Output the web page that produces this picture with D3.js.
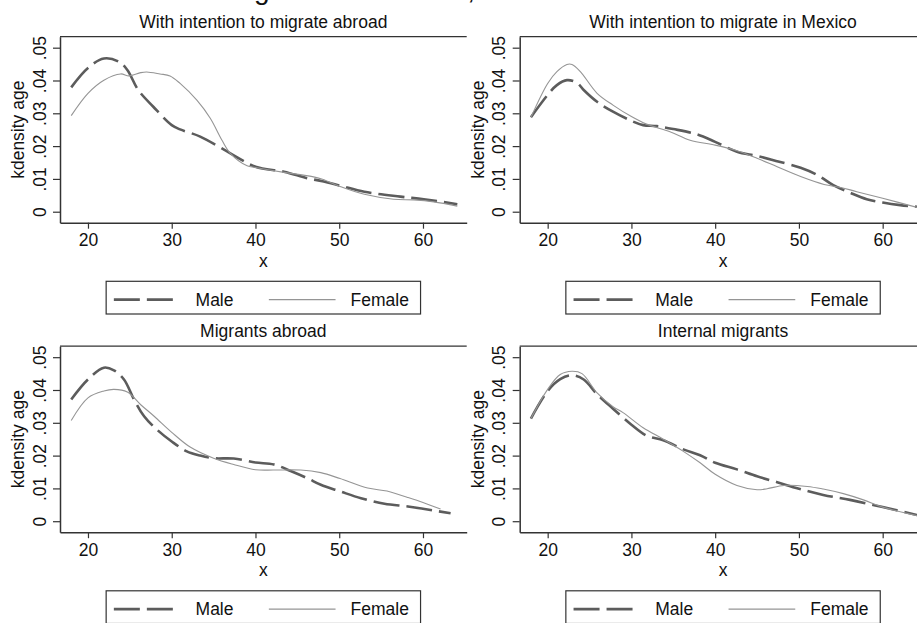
<!DOCTYPE html>
<html>
<head>
<meta charset="utf-8">
<script src="https://cdn.jsdelivr.net/npm/d3@7"></script>
<style>
  body { margin: 0; background: #fff; }
  svg { display: block; font-family: "Liberation Sans", Arial, Helvetica, sans-serif; }
</style>
</head>
<body>
<script>
// panel titles, in reading order
const panelTitles = [
    "With intention to migrate abroad",
    "With intention to migrate in Mexico",
    "Migrants abroad",
    "Internal migrants"
];
const seriesNames = ["Male", "Female"];
const xTicks = [20, 30, 40, 50, 60];
const yTicks = [0, 0.01, 0.02, 0.03, 0.04, 0.05];
const yTickLabels = ["0", ".01", ".02", ".03", ".04", ".05"];

// [age, density]
const intentAbroadMale = [[18, .0379], [20, .0438], [21.9, .0467], [23.7, .0457], [24.7, .0432], [26, .0371], [27.8, .032], [30, .0264], [31, .0251], [33.4, .0229], [37, .0178], [40, .0137], [43.4, .0122], [46.2, .0102], [48, .0093], [50.2, .0079], [53, .0061], [57.3, .0046], [60.1, .0038], [64.1, .0023]];
const intentAbroadFemale = [[18, .0293], [20, .0361], [21.9, .0401], [23.9, .042], [24.9, .0414], [26.3, .0424], [27, .0426], [28.6, .042], [29.8, .0414], [31, .0391], [33, .034], [34.6, .0285], [36, .0218], [37, .0178], [39, .014], [40, .0135], [43.4, .012], [46.8, .0107], [48, .0099], [50.2, .0076], [53, .0053], [56.5, .0038], [58.9, .0036], [61.3, .003], [64.1, .0017]];

const intentMexicoMale = [[18, .0288], [20, .0356], [21.1, .0386], [22.3, .0401], [23.5, .0393], [24.3, .0371], [25.9, .0335], [27.8, .0305], [30, .0277], [31.4, .0264], [33, .0261], [35, .0252], [37.8, .0236], [40, .0213], [42.6, .0183], [45, .017], [47.4, .0154], [50.2, .0134], [52.2, .0112], [54.1, .0081], [56.1, .0058], [58.1, .0038], [60, .0028], [62.1, .002], [64.1, .0015]];
const intentMexicoFemale = [[18, .0288], [20, .0391], [21.1, .0427], [22.3, .0449], [22.9, .0449], [23.9, .0427], [25.9, .0361], [27.8, .0325], [30, .029], [31.8, .0267], [34.6, .0244], [37, .0218], [40, .0203], [42.6, .0186], [45, .0163], [47.4, .0137], [50.2, .0107], [53, .0083], [55, .0074], [56.9, .0061], [60, .0041], [64.1, .0013]];

const abroadMale = [[18, .0371], [20, .0432], [21.9, .0468], [23.1, .046], [24.3, .0432], [25.5, .0371], [26.7, .032], [28.2, .028], [30, .0243], [31.8, .0213], [33.4, .02], [35, .0192], [37.4, .0191], [40, .0179], [42.2, .0173], [44.2, .0153], [46.2, .0131], [47.8, .0111], [50.1, .0091], [52.6, .007], [55.4, .0053], [58.2, .0045], [60, .0038], [63.3, .0024]];
const abroadFemale = [[18, .0307], [20, .0376], [21.9, .0397], [23.1, .0402], [24.7, .0394], [26.3, .0355], [27.9, .032], [30, .0271], [32.2, .0226], [35, .0192], [37.4, .0173], [40, .0157], [42.2, .0156], [45.4, .0156], [47.8, .0148], [50.1, .013], [53.4, .0101], [55.7, .0092], [58.1, .0073], [60, .0057], [62.1, .0037]];

const internalMale = [[18, .0313], [20, .0397], [21.5, .0433], [22.9, .0445], [24.3, .0432], [25.9, .0387], [27.8, .0343], [30, .0294], [31.8, .0261], [33.8, .0247], [36.2, .0219], [38.2, .0201], [40, .0178], [42.6, .0158], [45, .0137], [47.4, .0119], [50, .0099], [52.9, .008], [56.1, .0065], [60, .0043], [64.1, .0019]];
const internalFemale = [[18, .0313], [20, .0402], [21.5, .0447], [22.9, .0457], [24.1, .045], [25.9, .0391], [27.8, .0349], [29, .0331], [31.4, .0285], [33.8, .025], [36.2, .0213], [38.2, .0178], [40, .0143], [42.6, .0109], [45, .0096], [46.2, .0099], [48.2, .0109], [51, .0106], [52.9, .0098], [55.3, .0084], [57.7, .0065], [60, .0043], [64.1, .0017]];

const panelSeries = [
    [intentAbroadMale, intentAbroadFemale],
    [intentMexicoMale, intentMexicoFemale],
    [abroadMale, abroadFemale],
    [internalMale, internalFemale]
];

const W = 917, H = 623;
const colLeft = [60, 519.7];
const rowTop = [36.7, 346.2];
const plotW = 406.7, plotH = 186;
const fontSize = 17.5;
const textColor = "#111";
const axisColor = "#333";
const maleStyle = { stroke: "#5c5c5c", width: 2.6, dash: "26 7" };
const femaleStyle = { stroke: "#959595", width: 1.1, dash: null };
const styles = [maleStyle, femaleStyle];

const svg = d3.select("body").append("svg")
    .attr("width", W)
    .attr("height", H);

svg.append("rect").attr("width", W).attr("height", H).attr("fill", "#fff");

// overall title, mostly cropped off at the top edge
svg.append("text")
    .attr("x", 2)
    .attr("y", -1)
    .attr("font-size", 28)
    .attr("fill", textColor)
    .text("Men and women: migration intentions, Mexico");

const x = d3.scaleLinear().domain([16.66, 65.22]).range([0, plotW]);
const y = d3.scaleLinear().domain([-0.00335, 0.05335]).range([plotH, 0]);

const line = d3.line()
    .x(d => x(d[0]))
    .y(d => y(d[1]))
    .curve(d3.curveCatmullRom.alpha(0.5));

function drawPanel(i) {
    const left = colLeft[i % 2];
    const top = rowTop[Math.floor(i / 2)];
    const g = svg.append("g").attr("transform", `translate(${left},${top})`);

    g.append("text")
        .attr("x", plotW / 2)
        .attr("y", -9)
        .attr("text-anchor", "middle")
        .attr("font-size", fontSize)
        .attr("fill", textColor)
        .text(panelTitles[i]);

    // top edge of the plot region (right edge is cropped in the source)
    g.append("line")
        .attr("x1", 0).attr("x2", plotW)
        .attr("y1", 0).attr("y2", 0)
        .attr("stroke", axisColor)
        .attr("stroke-width", 1.2);

    panelSeries[i].forEach((pts, k) => {
        g.append("path")
            .datum(pts)
            .attr("fill", "none")
            .attr("stroke", styles[k].stroke)
            .attr("stroke-width", styles[k].width)
            .attr("stroke-dasharray", styles[k].dash)
            .attr("d", line);
    });

    const yAxis = g.append("g")
        .call(d3.axisLeft(y).tickValues(yTicks).tickSize(7).tickSizeOuter(0)
            .tickFormat((d, j) => yTickLabels[j]));
    yAxis.selectAll(".tick text")
        .attr("transform", "rotate(-90)")
        .attr("x", 0)
        .attr("y", -14.5)
        .attr("dy", 0)
        .attr("text-anchor", "middle");

    const xAxis = g.append("g")
        .attr("transform", `translate(0,${plotH})`)
        .call(d3.axisBottom(x).tickValues(xTicks).tickSize(6).tickSizeOuter(0));
    xAxis.selectAll(".tick text").attr("y", 11).attr("dy", "0.71em");

    [yAxis, xAxis].forEach(a => {
        a.attr("font-size", fontSize).attr("font-family", null);
        a.select(".domain").attr("stroke", axisColor).attr("stroke-width", 1.5);
        a.selectAll(".tick line").attr("stroke", axisColor).attr("stroke-width", 1.2);
        a.selectAll(".tick text").attr("fill", textColor);
    });

    g.append("text")
        .attr("x", plotW / 2)
        .attr("y", plotH + 44.3)
        .attr("text-anchor", "middle")
        .attr("font-size", fontSize)
        .attr("fill", textColor)
        .text("x");

    g.append("text")
        .attr("transform", `translate(-42,${plotH / 2}) rotate(-90)`)
        .attr("text-anchor", "middle")
        .attr("dy", "0.35em")
        .attr("font-size", fontSize)
        .attr("fill", textColor)
        .text("kdensity age");

    // legend
    const lg = g.append("g").attr("transform", `translate(${plotW / 2},${244.6})`);
    lg.append("rect")
        .attr("x", -157.2).attr("y", 0)
        .attr("width", 314.4).attr("height", 32.7)
        .attr("fill", "#fff")
        .attr("stroke", axisColor)
        .attr("stroke-width", 1.2);
    const sampleX = [[-149.5, -87.8], [5.5, 72.2]];
    const labelX = [-67.8, 87.2];
    seriesNames.forEach((name, k) => {
        lg.append("line")
            .attr("x1", sampleX[k][0]).attr("x2", sampleX[k][1])
            .attr("y1", 18.3).attr("y2", 18.3)
            .attr("stroke", styles[k].stroke)
            .attr("stroke-width", styles[k].width)
            .attr("stroke-dasharray", styles[k].dash);
        lg.append("text")
            .attr("x", labelX[k])
            .attr("y", 24.6)
            .attr("font-size", fontSize)
            .attr("fill", textColor)
            .text(name);
    });
}

panelTitles.forEach((t, i) => drawPanel(i));
</script>
</body>
</html>
